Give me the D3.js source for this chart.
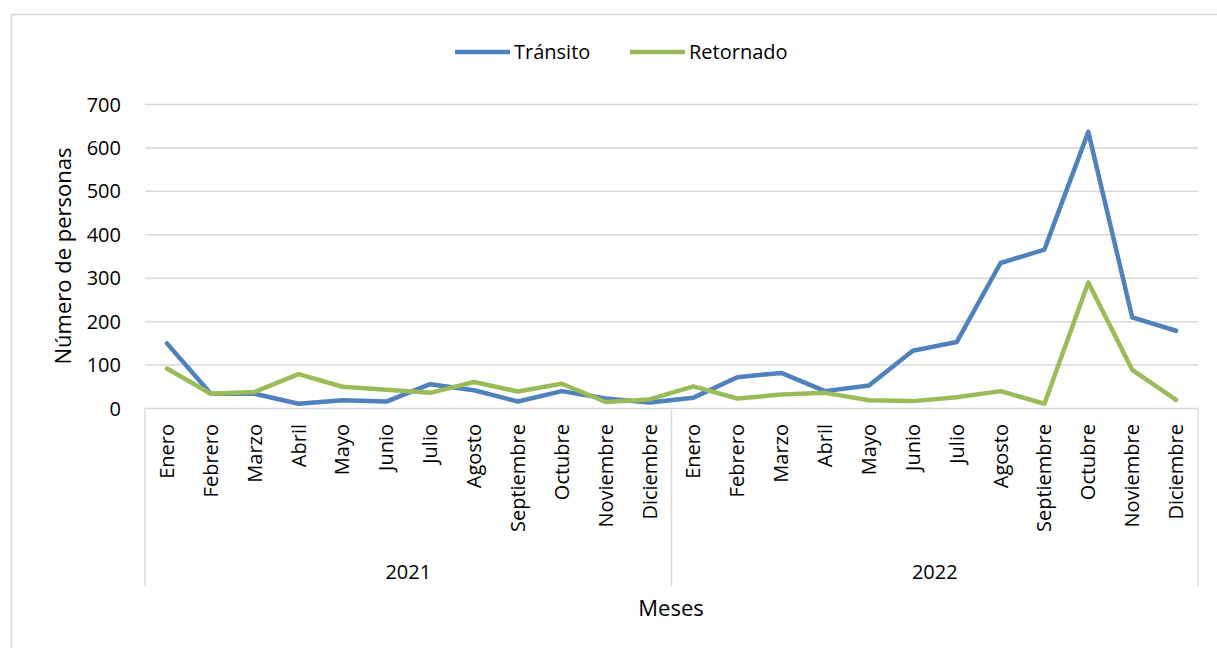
<!DOCTYPE html>
<html>
<head>
<meta charset="utf-8">
<script src="https://cdn.jsdelivr.net/npm/d3@7"></script>
<style>
  body { margin: 0; background: #fff; }
  text { font-family: "Open Sans", "Noto Sans", sans-serif; fill: #000; }
</style>
</head>
<body>
<svg id="chart" width="1217" height="648"></svg>
<script>
// Categories
const years = ['2021', '2022'];
const months = ['Enero', 'Febrero', 'Marzo', 'Abril', 'Mayo', 'Junio', 'Julio',
  'Agosto', 'Septiembre', 'Octubre', 'Noviembre', 'Diciembre'];

// Series values (2021 Enero .. 2022 Diciembre)
const transito = [150, 34, 34, 11, 19, 16, 56, 42, 16, 40, 23, 14,
  25, 72, 82, 40, 53, 133, 153, 335, 366, 637, 210, 179];
const retornado = [92, 34, 38, 79, 50, 43, 36, 61, 39, 57, 15, 21,
  51, 23, 32, 36, 19, 17, 26, 40, 11, 290, 89, 20];

const yTicks = [0, 100, 200, 300, 400, 500, 600, 700];

const svg = d3.select('#chart');
const margin = { left: 145, right: 1198, top: 104.5, bottom: 408.5 };
const gridColor = '#d9d9d9';

// outer frame
svg.append('rect')
  .attr('x', 11.5).attr('y', 14.5)
  .attr('width', 1210).attr('height', 640)
  .attr('fill', 'none').attr('stroke', gridColor).attr('stroke-width', 1.5);

const keys = [];
years.forEach(y => months.forEach(m => keys.push(y + '-' + m)));

const x = d3.scaleBand().domain(keys).range([margin.left, margin.right]);
const y = d3.scaleLinear().domain([0, 700]).range([margin.bottom, margin.top]);

// gridlines
svg.append('g')
  .selectAll('line')
  .data(yTicks.filter(t => t > 0))
  .join('line')
  .attr('x1', margin.left).attr('x2', margin.right)
  .attr('y1', d => y(d)).attr('y2', d => y(d))
  .attr('stroke', gridColor).attr('stroke-width', 1.5);

// y axis labels
svg.append('g')
  .selectAll('text')
  .data(yTicks)
  .join('text')
  .attr('x', 121)
  .attr('y', d => y(d))
  .attr('dy', '0.35em')
  .attr('text-anchor', 'end')
  .attr('font-size', '20px')
  .text(d => d);

// x axis baseline and group separators
const axisG = svg.append('g');
axisG.append('line')
  .attr('x1', margin.left).attr('x2', margin.right)
  .attr('y1', y(0)).attr('y2', y(0))
  .attr('stroke', gridColor).attr('stroke-width', 1.5);

const sepX = [x(keys[0]), x(keys[12]), x(keys[23]) + x.bandwidth()];
axisG.selectAll('.sep')
  .data(sepX)
  .join('line')
  .attr('class', 'sep')
  .attr('x1', d => d).attr('x2', d => d)
  .attr('y1', y(0)).attr('y2', 586)
  .attr('stroke', gridColor).attr('stroke-width', 1.5);

// month labels
axisG.selectAll('.month')
  .data(keys)
  .join('text')
  .attr('class', 'month')
  .attr('transform', d => `translate(${x(d) + x.bandwidth() / 2 + 7},424) rotate(-90)`)
  .attr('text-anchor', 'end')
  .attr('font-size', '20px')
  .text(d => d.split('-')[1]);

// year labels
axisG.selectAll('.year')
  .data(years)
  .join('text')
  .attr('class', 'year')
  .attr('x', (d, i) => (sepX[i] + sepX[i + 1]) / 2)
  .attr('y', 579)
  .attr('text-anchor', 'middle')
  .attr('font-size', '20px')
  .text(d => d);

// axis titles
svg.append('text')
  .attr('x', 671).attr('y', 616)
  .attr('text-anchor', 'middle')
  .attr('font-size', '22px')
  .text('Meses');

svg.append('text')
  .attr('transform', 'translate(71,256) rotate(-90)')
  .attr('text-anchor', 'middle')
  .attr('font-size', '22px')
  .text('Número de personas');

// lines
const series = [
  { name: 'Tránsito', values: transito, color: '#4f81bd' },
  { name: 'Retornado', values: retornado, color: '#9bbb59' }
];

const line = d3.line()
  .x((d, i) => x(keys[i]) + x.bandwidth() / 2)
  .y(d => y(d));

series.forEach(s => {
  svg.append('path')
    .datum(s.values)
    .attr('d', line)
    .attr('fill', 'none')
    .attr('stroke', s.color)
    .attr('stroke-width', 4.5)
    .attr('stroke-linejoin', 'round')
    .attr('stroke-linecap', 'round');
});

// legend
const legendPos = [455, 630];
const legend = svg.append('g');
series.forEach((s, i) => {
  legend.append('line')
    .attr('x1', legendPos[i]).attr('x2', legendPos[i] + 55)
    .attr('y1', 52).attr('y2', 52)
    .attr('stroke', s.color).attr('stroke-width', 4.5);
  legend.append('text')
    .attr('x', legendPos[i] + 59).attr('y', 52)
    .attr('dy', '0.35em')
    .attr('font-size', '20px')
    .text(s.name);
});
</script>
</body>
</html>
